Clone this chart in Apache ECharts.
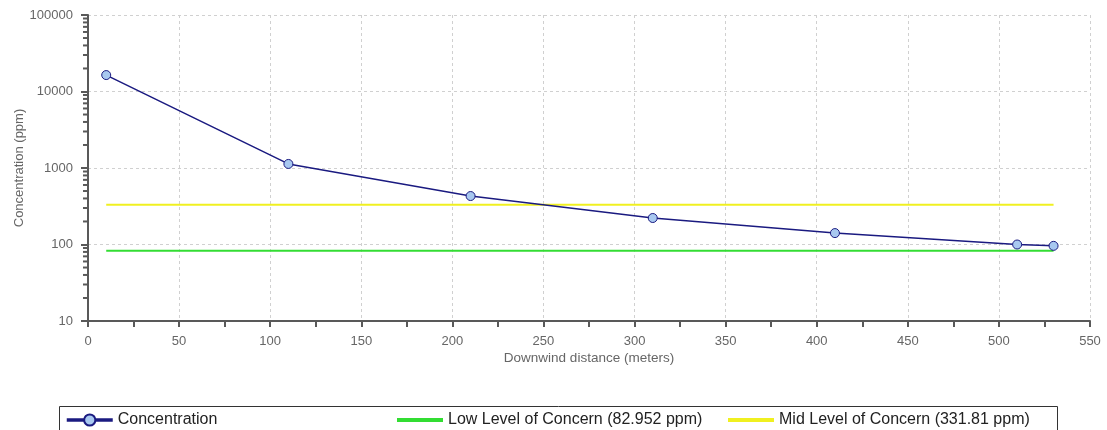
<!DOCTYPE html>
<html><head><meta charset="utf-8">
<script src="https://cdn.jsdelivr.net/npm/echarts@6/dist/echarts.min.js"></script>
<style>html,body{margin:0;padding:0;background:#fff}#c{width:1107px;height:430px}</style>
</head><body><div id="c"></div>
<script>
const distances = [10, 110, 210, 310, 410, 510, 530];
const concentration = [16400, 1130, 430, 222, 141, 100, 96];
const lowLevel = 82.952;
const midLevel = 331.81;
const lineStart = 10, lineEnd = 530;
const seriesNames = ['Concentration', 'Low Level of Concern (82.952 ppm)', 'Mid Level of Concern (331.81 ppm)'];
const xTitle = 'Downwind distance (meters)';
const yTitle = 'Concentration (ppm)';

// minor tick values for the log axis (2..9 per decade)
const minorTicks = [];
for (let d = 10; d < 100000; d *= 10) for (let k = 2; k <= 9; k++) minorTicks.push([0, d * k]);

const font = 'Liberation Sans, Arial, sans-serif';
const chart = echarts.init(document.getElementById('c'));
chart.setOption({
  animation: false,
  textStyle: { fontFamily: font },
  grid: { left: 88, right: 17, top: 15, bottom: 109, outerBoundsMode: 'none', containLabel: false },
  xAxis: {
    type: 'value', min: 0, max: 550, interval: 50,
    name: xTitle, nameLocation: 'middle', nameGap: 30, nameMoveOverlap: false,
    nameTextStyle: { color: '#666', fontSize: 13.5, fontFamily: font },
    axisLine: { show: true, onZero: false, lineStyle: { color: '#595959', width: 2 } },
    axisTick: { show: true, length: 6, lineStyle: { color: '#595959', width: 2 } },
    minorTick: { show: true, splitNumber: 2, length: 6, lineStyle: { color: '#595959', width: 2 } },
    axisLabel: { color: '#666', fontSize: 13, margin: 14, fontFamily: font },
    splitLine: { show: true, lineStyle: { color: '#d0d0d0', type: [3, 3], width: 1 } }
  },
  yAxis: {
    type: 'log', logBase: 10, min: 10, max: 100000,
    name: yTitle, nameLocation: 'middle', nameGap: 62, nameMoveOverlap: false,
    nameTextStyle: { color: '#666', fontSize: 13, fontFamily: font },
    axisLine: { show: true, lineStyle: { color: '#595959', width: 2 } },
    axisTick: { show: true, length: 7, lineStyle: { color: '#595959', width: 2 } },
    axisLabel: { color: '#666', fontSize: 13, margin: 15, fontFamily: font,
      formatter: v => String(Math.round(v)) },
    splitLine: { show: true, lineStyle: { color: '#d0d0d0', type: [3, 3], width: 1 } }
  },
  legend: [
    { data: [{ name: seriesNames[0], lineStyle: { width: 3.5 } }], left: 60, top: 407, itemWidth: 46, itemHeight: 14,
      textStyle: { color: '#222', fontSize: 16, fontFamily: font } },
    { data: [{ name: seriesNames[1], icon: 'rect' }], left: 392, top: 407, itemWidth: 46, itemHeight: 4,
      textStyle: { color: '#222', fontSize: 16, fontFamily: font } },
    { data: [{ name: seriesNames[2], icon: 'rect' }], left: 723, top: 407, itemWidth: 46, itemHeight: 4,
      textStyle: { color: '#222', fontSize: 16, fontFamily: font } }
  ],
  graphic: [{
    type: 'rect', left: 57, top: 404, shape: { width: 998, height: 24 },
    style: { fill: 'none', stroke: '#333', lineWidth: 1 }, z: -1
  }],
  series: [
    {
      name: seriesNames[0], type: 'line',
      data: distances.map((d, i) => [d, concentration[i]]),
      symbol: 'circle', symbolSize: 9,
      lineStyle: { color: '#1a1a80', width: 1.5 },
      itemStyle: { color: '#a8c8f0', borderColor: '#1a1a80', borderWidth: 1 },
      z: 5
    },
    {
      name: seriesNames[1], type: 'line', symbol: 'none',
      data: [[lineStart, lowLevel], [lineEnd, lowLevel]],
      lineStyle: { color: '#33dd33', width: 2 }, itemStyle: { color: '#33dd33' }, z: 3
    },
    {
      name: seriesNames[2], type: 'line', symbol: 'none',
      data: [[lineStart, midLevel], [lineEnd, midLevel]],
      lineStyle: { color: '#f0f020', width: 2 }, itemStyle: { color: '#f0f020' }, z: 3
    },
    {
      type: 'custom', silent: true, clip: false, data: minorTicks,
      renderItem: function (params, api) {
        const p = api.coord([0, api.value(1)]);
        return { type: 'line', shape: { x1: p[0] - 5, y1: p[1], x2: p[0], y2: p[1] },
          style: { stroke: '#595959', lineWidth: 2 } };
      }
    }
  ]
});
</script></body></html>
